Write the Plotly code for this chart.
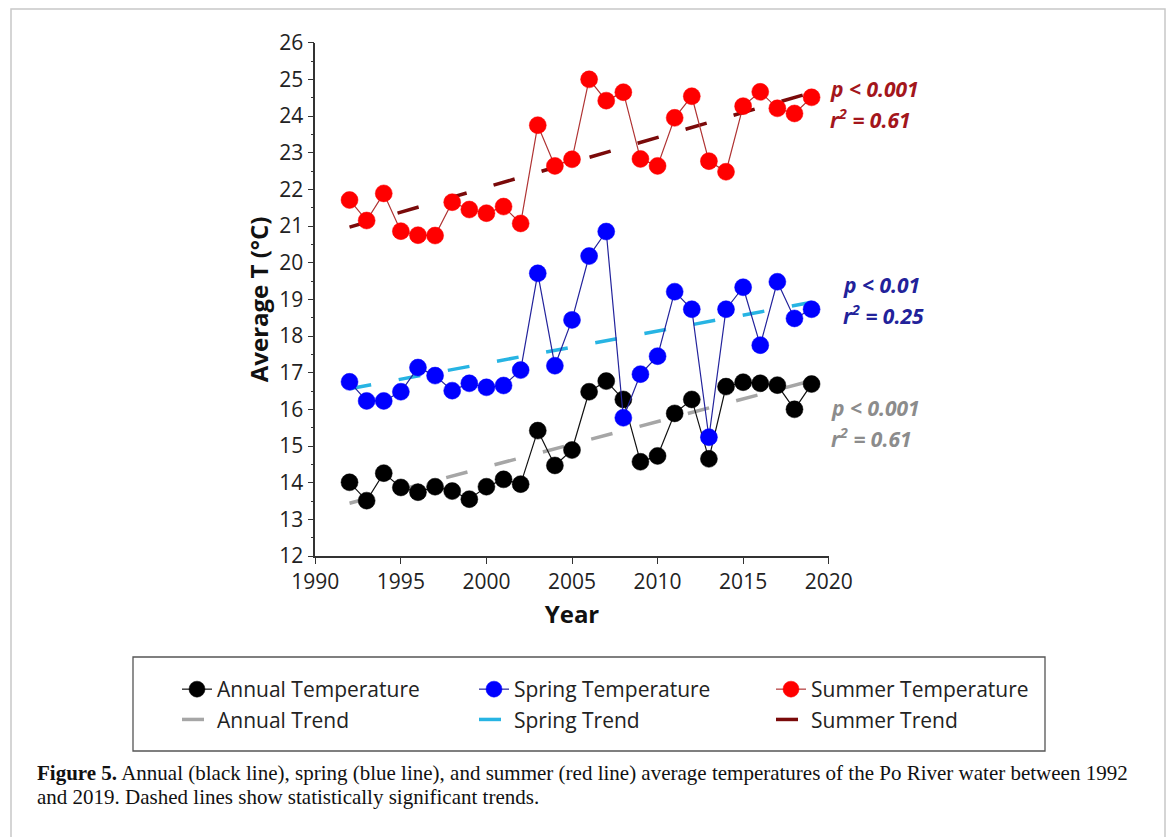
import plotly.graph_objects as go

# Po River water temperature, 1992-2019 (°C)
years = list(range(1992, 2020))
annual = [14.01, 13.51, 14.26, 13.87, 13.74, 13.89, 13.77, 13.55, 13.89, 14.09,
          13.96, 15.42, 14.47, 14.89, 16.48, 16.77, 16.27, 14.57, 14.73, 15.89,
          16.27, 14.65, 16.62, 16.74, 16.71, 16.66, 16.00, 16.69]
spring = [16.75, 16.23, 16.23, 16.48, 17.14, 16.92, 16.51, 16.71, 16.60, 16.65,
          17.07, 19.71, 17.19, 18.44, 20.18, 20.85, 15.77, 16.96, 17.45, 19.21,
          18.73, 15.24, 18.73, 19.33, 17.75, 19.48, 18.48, 18.73]
summer = [21.71, 21.15, 21.89, 20.86, 20.75, 20.74, 21.65, 21.45, 21.35, 21.53,
          21.07, 23.75, 22.64, 22.82, 25.00, 24.42, 24.65, 22.83, 22.64, 23.95,
          24.54, 22.77, 22.48, 24.27, 24.66, 24.21, 24.07, 24.51]

# Linear trend end points
trend_years = [1992, 2019]
annual_trend = [13.44, 16.78]
spring_trend = [16.56, 18.92]
summer_trend = [20.97, 24.64]

# Significance labels
stats_annual = ["p < 0.001", "r<sup>2</sup> = 0.61"]
stats_spring = ["p < 0.01", "r<sup>2</sup> = 0.25"]
stats_summer = ["p < 0.001", "r<sup>2</sup> = 0.61"]

W, H = 1170, 837
FONT = "Open Sans"


def px(x):
    return x / W


def py(y):
    return 1 - y / H


fig = go.Figure()

# trend lines (drawn beneath the data)
trend_dash = "22px,28px"
for name, vals, col, rank in [
    ("Annual Trend", annual_trend, "#a6a6a6", 4),
    ("Spring Trend", spring_trend, "#27b4e3", 5),
    ("Summer Trend", summer_trend, "#7a0a0a", 6),
]:
    fig.add_trace(go.Scatter(
        x=trend_years, y=vals, mode="lines", name=name, legendrank=rank,
        line=dict(color=col, width=3.5, dash=trend_dash),
    ))

# yearly series
for name, vals, mcol, lcol, rank in [
    ("Annual Temperature", annual, "#000000", "#111111", 1),
    ("Spring Temperature", spring, "#0000ff", "#23239c", 2),
    ("Summer Temperature", summer, "#ff0000", "#b03434", 3),
]:
    fig.add_trace(go.Scatter(
        x=years, y=vals, mode="lines+markers", name=name, legendrank=rank,
        line=dict(color=lcol, width=1.2),
        marker=dict(symbol="circle", size=17, color=mcol,
                    line=dict(color=mcol, width=0.5)),
    ))

axis_common = dict(
    showline=True, linecolor="#333333", linewidth=1.5,
    showgrid=False, zeroline=False, ticks="outside", ticklen=6,
    tickwidth=1.3, tickcolor="#333333",
    tickfont=dict(family=FONT, size=21, color="#222222"),
)

fig.update_layout(
    width=W, height=H,
    margin=dict(l=0, r=0, t=0, b=0, autoexpand=False),
    paper_bgcolor="white", plot_bgcolor="white",
    xaxis=dict(
        domain=[px(315.3), px(828.7)], range=[1990, 2020],
        tick0=1990, dtick=5,
        title=dict(text="<b>Year</b>", standoff=12,
                   font=dict(family=FONT, size=24, color="#111111")),
        **axis_common,
    ),
    yaxis=dict(
        domain=[py(556), py(42.7)], range=[12, 26], dtick=1,
        minor=dict(ticks="outside", ticklen=3, dtick=0.5,
                   tickcolor="#333333", tickwidth=1.1),
        title=dict(text="<b>Average T (°C)</b>", standoff=4,
                   font=dict(family=FONT, size=24, color="#111111")),
        **axis_common,
    ),
    legend=dict(
        orientation="h", x=px(177), xanchor="left", y=py(669), yanchor="top",
        entrywidth=252, entrywidthmode="pixels",
        font=dict(family=FONT, size=21, color="#222222"),
        bgcolor="rgba(0,0,0,0)", borderwidth=0, traceorder="normal",
    ),
    showlegend=True,
)

shapes = [
    # outer figure frame
    dict(type="rect", xref="paper", yref="paper",
         x0=px(11), x1=px(1165), y0=-0.05, y1=py(9),
         line=dict(color="#c8c8c8", width=1.5), fillcolor="rgba(0,0,0,0)"),
    # legend box
    dict(type="rect", xref="paper", yref="paper",
         x0=px(133), x1=px(1045), y0=py(751), y1=py(657),
         line=dict(color="#555555", width=1.3), fillcolor="rgba(0,0,0,0)"),
]
fig.update_layout(shapes=shapes)

annotations = []
for lines, color, x0, ys in [
    (stats_summer, "#a3161c", 828, (89, 119)),
    (stats_spring, "#22229a", 841, (285, 314)),
    (stats_annual, "#8c8c8c", 829, (408, 437)),
]:
    for text, y in zip(lines, ys):
        annotations.append(dict(
            text=f"<b><i>{text}</i></b>", xref="paper", yref="paper",
            x=px(x0), y=py(y), xanchor="left", yanchor="middle",
            showarrow=False, font=dict(family=FONT, size=21, color=color),
        ))

caption_font = dict(family="Liberation Serif", size=21, color="#111111")
annotations.append(dict(
    text="<b>Figure 5.</b> Annual (black line), spring (blue line), and summer "
         "(red line) average temperatures of the Po River water between 1992",
    xref="paper", yref="paper", x=px(35), y=py(773), xanchor="left",
    yanchor="middle", showarrow=False, font=caption_font,
))
annotations.append(dict(
    text="and 2019. Dashed lines show statistically significant trends.",
    xref="paper", yref="paper", x=px(35), y=py(797), xanchor="left",
    yanchor="middle", showarrow=False, font=caption_font,
))
fig.update_layout(annotations=annotations)

fig.write_html("out.html")
